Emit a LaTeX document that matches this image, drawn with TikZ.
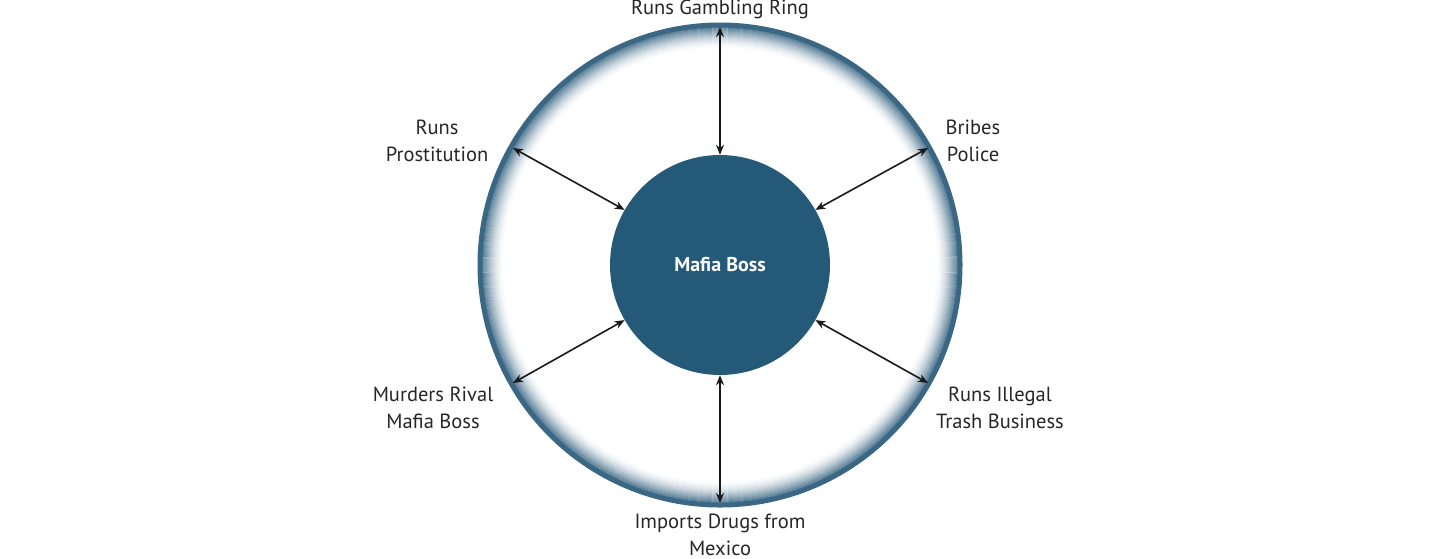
\documentclass[tikz,border=0pt]{standalone}
\usepackage{fontspec}
\setmainfont{PT Sans}
\usetikzlibrary{arrows.meta}
\definecolor{boss}{HTML}{245A78}
\definecolor{ringc}{HTML}{3A6784}
\tikzset{
  lbl/.style={font=\fontsize{20.5}{27}\selectfont, align=center, text=black!85},
  link/.style={{Stealth[length=10pt,width=8pt]}-{Stealth[length=10pt,width=8pt]}, line width=1.6pt, black!90}
}
\begin{document}
\begin{tikzpicture}[x=1pt,y=-1pt]
\useasboundingbox (0,0) rectangle (1440,558);
\foreach \i in {0,...,22}{
  \pgfmathsetmacro{\op}{0.85*(1-\i/23)^2}
  \draw[ringc, line width=1.2pt, opacity=\op] (720,265) circle ({238-\i});
}
\draw[ringc, line width=5pt] (720,265) circle (240);
\node[circle, fill=boss, minimum size=220pt, inner sep=0, text=white, font=\fontsize{20}{24}\selectfont\bfseries] (boss) at (720,265) {Mafia Boss};
\coordinate (t) at (720,27);
\coordinate (ur) at (928,148);
\coordinate (lr) at (928,383);
\coordinate (b) at (720,503);
\coordinate (ll) at (513,383);
\coordinate (ul) at (513,148);
\draw[link] (t) -- (boss.90);
\draw[link] (ur) -- (boss.30);
\draw[link] (lr) -- (boss.-30);
\draw[link] (b) -- (boss.-90);
\draw[link] (ll) -- (boss.210);
\draw[link] (ul) -- (boss.150);
\node[lbl] (lt) at (720,9) {Runs Gambling Ring};
\node[lbl] (lur) at (973,141) {Bribes\\Police};
\node[lbl] (llr) at (1000,408) {Runs Illegal\\Trash Business};
\node[lbl] (lb) at (720,535) {Imports Drugs from\\Mexico};
\node[lbl] (lll) at (433,408) {Murders Rival\\Mafia Boss};
\node[lbl] (lul) at (437,141) {Runs\\Prostitution};
\end{tikzpicture}
\end{document}
